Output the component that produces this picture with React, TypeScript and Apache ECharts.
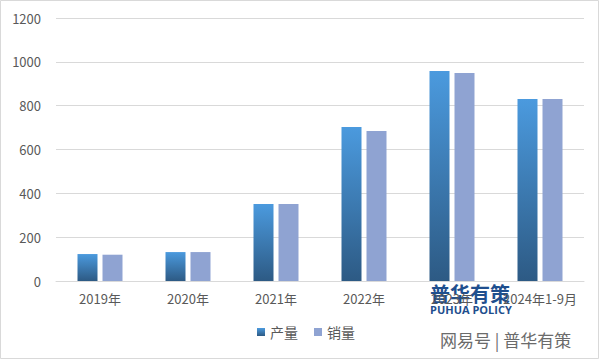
import React, { useEffect, useRef } from "react";
import * as echarts from "echarts";

const categories = ["2019年", "2020年", "2021年", "2022年", "2023年", "2024年1-9月"];
const production = [123, 132, 351, 703, 958, 830];
const sales = [120, 132, 351, 684, 949, 830];
const yTicks = { min: 0, max: 1200, interval: 200 };

export default function App() {
  const ref = useRef<HTMLDivElement>(null);
  useEffect(() => {
    if (!ref.current) return;
    const chart = echarts.init(ref.current, null, { renderer: "svg" });
    const font = "'Microsoft YaHei', 'Noto Sans CJK SC', sans-serif";
    chart.setOption({
      animation: false,
      backgroundColor: "#ffffff",
      textStyle: { fontFamily: font },
      grid: { left: 56, right: 17, top: 18, bottom: 80 },
      legend: {
        bottom: 17,
        left: 252,
        itemWidth: 8,
        itemHeight: 8,
        itemGap: 16,
        icon: "rect",
        textStyle: { color: "#595959", fontSize: 14, fontFamily: font },
        data: ["产量", "销量"],
      },
      xAxis: {
        type: "category",
        data: categories,
        axisLine: { lineStyle: { color: "#d9d9d9" } },
        axisTick: { show: false },
        axisLabel: { color: "#595959", fontSize: 13, margin: 11, interval: 0, fontFamily: font },
      },
      yAxis: {
        type: "value",
        min: yTicks.min,
        max: yTicks.max,
        interval: yTicks.interval,
        axisLine: { show: false },
        axisTick: { show: false },
        axisLabel: {
          color: "#595959",
          fontSize: 13,
          margin: 15,
          fontFamily: font,
          formatter: (v: number) => String(v),
        },
        splitLine: { lineStyle: { color: "#d9d9d9" } },
      },
      series: [
        {
          name: "产量",
          type: "bar",
          data: production,
          barWidth: 20,
          barGap: "25%",
          itemStyle: {
            color: new echarts.graphic.LinearGradient(0, 0, 0, 1, [
              { offset: 0, color: "#4b9ade" },
              { offset: 1, color: "#2d5a84" },
            ]),
          },
        },
        {
          name: "销量",
          type: "bar",
          data: sales,
          barWidth: 20,
          itemStyle: { color: "#8fa3d2" },
        },
      ],
      graphic: [
        {
          type: "rect",
          shape: { x: 0.5, y: 0.5, width: 598, height: 358 },
          style: { fill: "none", stroke: "#d9d9d9", lineWidth: 1 },
          silent: true,
        },
        {
          type: "text",
          x: 430,
          y: 283,
          style: { text: "普华有策", fill: "#1f4f8e", font: "bold 20px 'Noto Sans CJK SC'" },
        },
        {
          type: "text",
          x: 430,
          y: 304,
          style: { text: "PUHUA POLICY", fill: "#1f4f8e", font: "bold 11px 'Open Sans', sans-serif" },
        },
        {
          type: "text",
          x: 440,
          y: 331,
          style: { text: "网易号 | 普华有策", fill: "#6b6b6b", font: "17px 'Noto Sans CJK SC'" },
        },
      ],
    });
    return () => chart.dispose();
  }, []);
  return <div ref={ref} style={{ width: 601, height: 361, position: "absolute", left: 0, top: 0 }} />;
}
